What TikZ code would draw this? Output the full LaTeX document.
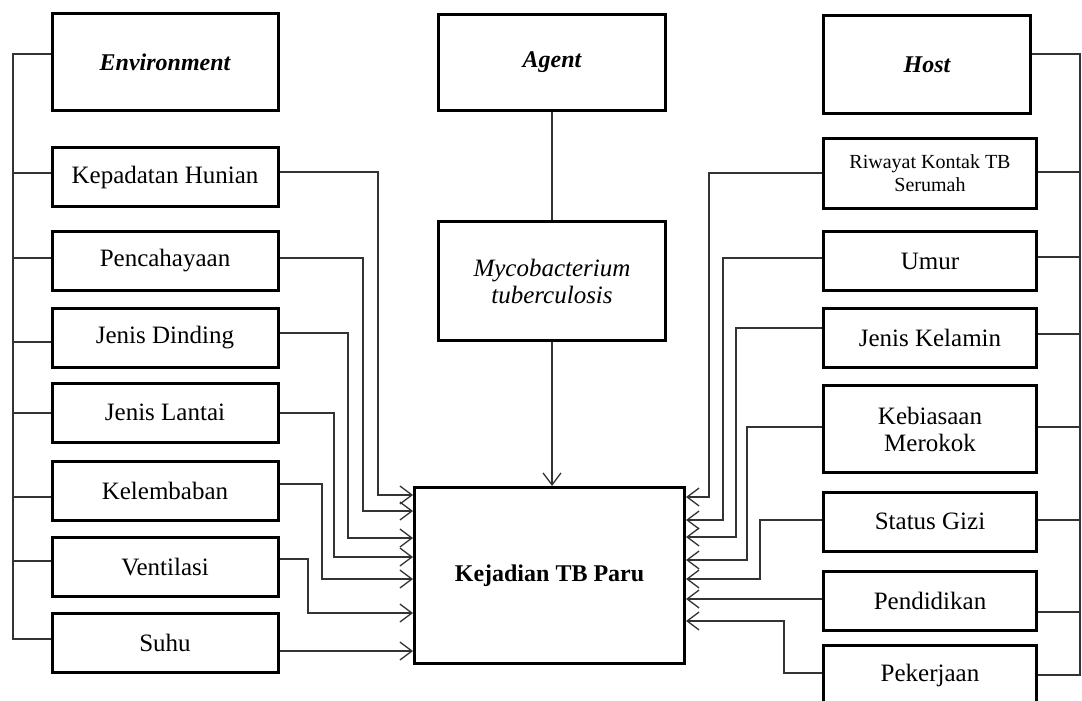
\documentclass[tikz,border=0pt]{standalone}
\usepackage{fontspec}
\setmainfont{Liberation Serif}
\usetikzlibrary{arrows.meta,positioning}

\begin{document}
\begin{tikzpicture}[
    x=0.5pt, y=-0.5pt,
    box/.style={rectangle, draw, line width=1.5pt, minimum width=113pt, minimum height=29.5pt,
                align=center, inner sep=2pt, font=\fontsize{12.5}{13.5}\selectfont},
    rbox/.style={box, minimum width=106.5pt},
    head/.style={box, minimum height=48.5pt, font=\fontsize{12}{13.5}\selectfont\bfseries\itshape},
    link/.style={draw, line width=0.65pt, color=black!80},
    arrow/.style={link, -{Straight Barb[length=6pt,width=9pt]}}]

    \useasboundingbox (0,0) rectangle (1082,701);

    % Environment column
    \node [head] (env) at (165,62) {Environment};
    \node [box] (kep) at (165,177) {Kepadatan Hunian};
    \node [box] (pen) at (165,261) {Pencahayaan};
    \node [box] (din) at (165,337.5) {Jenis Dinding};
    \node [box] (lan) at (165,412.5) {Jenis Lantai};
    \node [box] (kel) at (165,491) {Kelembaban};
    \node [box] (ven) at (165,567) {Ventilasi};
    \node [box] (suh) at (165,642.5) {Suhu};

    % Agent column
    \node [head, minimum width=113.5pt, minimum height=48pt] (agent) at (552,62.5) {Agent};
    \node [box, minimum width=113.5pt, minimum height=59.5pt, font=\fontsize{12.5}{13.5}\selectfont\itshape]
          (myco) at (552,281) {Mycobacterium\\tuberculosis};
    \node [box, minimum width=135pt, minimum height=88pt, font=\fontsize{12}{13.5}\selectfont\bfseries]
          (kej) at (549.5,575.5) {Kejadian TB Paru};

    % Host column
    \node [head, minimum width=103.5pt, minimum height=49pt] (host) at (927,64.5) {Host};
    \node [rbox, minimum height=35pt, font=\fontsize{10}{11.5}\selectfont] (riw) at (930,173.5) {Riwayat Kontak TB\\Serumah};
    \node [rbox] (umr) at (930,261) {Umur};
    \node [rbox] (jkl) at (930,338) {Jenis Kelamin};
    \node [rbox, minimum height=43.5pt] (keb) at (930,429) {Kebiasaan\\Merokok};
    \node [rbox] (giz) at (930,521.5) {Status Gizi};
    \node [rbox] (pdd) at (930,600.5) {Pendidikan};
    \node [rbox] (pkj) at (930,675) {Pekerjaan};

    % left bus
    \coordinate (lbus) at (13,0);
    \draw [link] (env.west |- 0,54) -- (lbus |- 0,54) |- (suh.west |- 0,639);
    \draw [link] (kep.west |- 0,173) -- (lbus |- 0,173);
    \draw [link] (pen.west |- 0,258) -- (lbus |- 0,258);
    \draw [link] (din.west |- 0,342) -- (lbus |- 0,342);
    \draw [link] (lan.west |- 0,413) -- (lbus |- 0,413);
    \draw [link] (kel.west |- 0,497) -- (lbus |- 0,497);
    \draw [link] (ven.west |- 0,561) -- (lbus |- 0,561);

    % right bus
    \coordinate (rbus) at (1080,0);
    \draw [link] (host.east |- 0,54) -- (rbus |- 0,54) |- (pkj.east |- 0,675);
    \draw [link] (riw.east |- 0,172) -- (rbus |- 0,172);
    \draw [link] (umr.east |- 0,257) -- (rbus |- 0,257);
    \draw [link] (jkl.east |- 0,334) -- (rbus |- 0,334);
    \draw [link] (keb.east |- 0,427) -- (rbus |- 0,427);
    \draw [link] (giz.east |- 0,520) -- (rbus |- 0,520);
    \draw [link] (pdd.east |- 0,612) -- (rbus |- 0,612);

    % agent chain
    \draw [link] (agent) -- (myco);
    \draw [arrow] (myco.south) -- (myco.south |- kej.north);

    % environment factors into Kejadian
    \draw [arrow] (kep.east |- 0,172) -| (378,495) -- (kej.west |- 0,495);
    \draw [arrow] (pen.east |- 0,258) -| (363,511) -- (kej.west |- 0,511);
    \draw [arrow] (din.east |- 0,333) -| (348,538) -- (kej.west |- 0,538);
    \draw [arrow] (lan.east |- 0,413) -| (334,557) -- (kej.west |- 0,557);
    \draw [arrow] (kel.east |- 0,484) -| (322,579) -- (kej.west |- 0,579);
    \draw [arrow] (ven.east |- 0,559) -| (308,613) -- (kej.west |- 0,613);
    \draw [arrow] (suh.east |- 0,651) -- (kej.west |- 0,651);

    % host factors into Kejadian
    \draw [arrow] (riw.west |- 0,173) -| (709,497) -- (kej.east |- 0,497);
    \draw [arrow] (umr.west |- 0,258) -| (723,520) -- (kej.east |- 0,520);
    \draw [arrow] (jkl.west |- 0,328) -| (736,537) -- (kej.east |- 0,537);
    \draw [arrow] (keb.west |- 0,427) -| (747,560) -- (kej.east |- 0,560);
    \draw [arrow] (giz.west |- 0,520) -| (760,579) -- (kej.east |- 0,579);
    \draw [arrow] (pdd.west |- 0,599) -- (kej.east |- 0,599);
    \draw [arrow] (pkj.west |- 0,673) -| (784,621) -- (kej.east |- 0,621);
\end{tikzpicture}
\end{document}
